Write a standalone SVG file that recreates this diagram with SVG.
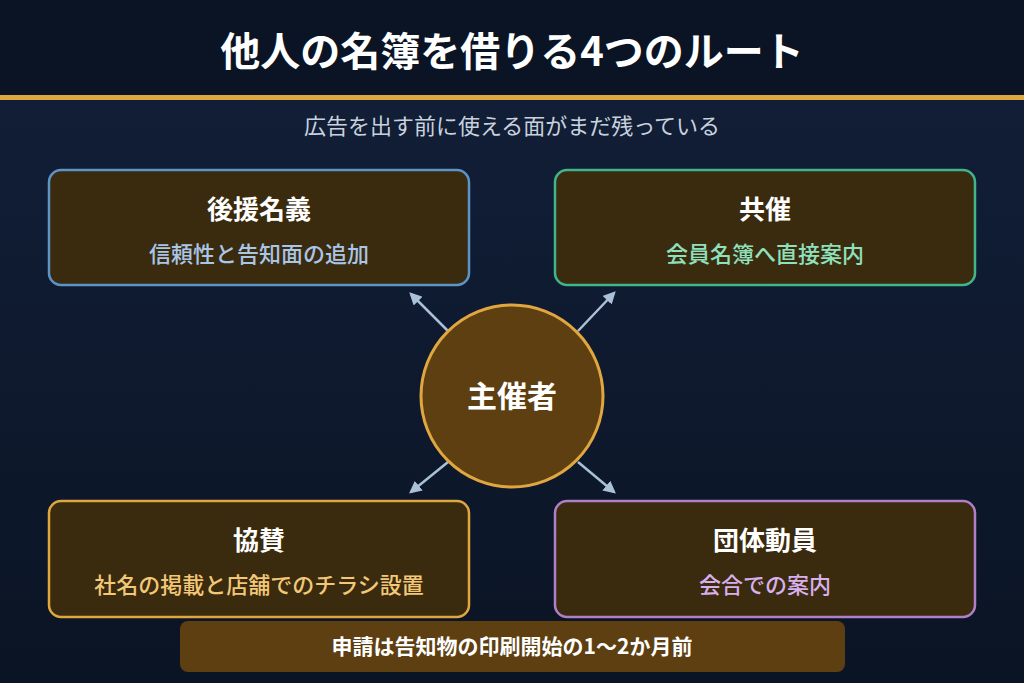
<svg xmlns="http://www.w3.org/2000/svg" width="1024" height="683" viewBox="0 0 1024 683">
<defs>
<linearGradient id="bg" x1="0" y1="0" x2="0" y2="1"><stop offset="0" stop-color="#13203a"/><stop offset="1" stop-color="#0a1424"/></linearGradient>
<marker id="ah" viewBox="0 0 10 10" refX="8" refY="5" markerWidth="5" markerHeight="5" orient="auto"><path d="M0,0L10,5L0,10z" fill="#a9c0d6"/></marker>
<style>
text{font-family:"Noto Sans CJK JP","Noto Sans",sans-serif;text-anchor:middle}
.box{fill:#3a2a0e;stroke-width:2.5}
.h{fill:#fff;font-size:26px;font-weight:700}
.s{font-size:22px;font-weight:500}
.c{stroke:#a9c0d6;stroke-width:2.5;marker-end:url(#ah)}
</style>
</defs>
<rect width="1024" height="683" fill="url(#bg)"/>
<rect width="1024" height="96" fill="#0a1424"/>
<rect y="95" width="1024" height="5" fill="#e0a640"/>
<text x="512" y="66" fill="#fff" font-size="40" font-weight="700">他人の名簿を借りる4つのルート</text>
<text x="512" y="134" fill="#c8d2de" font-size="22">広告を出す前に使える面がまだ残っている</text>
<g id="connectors">
<line class="c" x1="448" y1="331" x2="411" y2="294"/>
<line class="c" x1="578" y1="331" x2="614" y2="293"/>
<line class="c" x1="448" y1="462" x2="411" y2="492"/>
<line class="c" x1="578" y1="462" x2="614" y2="492"/>
</g>
<g id="center"><circle cx="512" cy="396" r="91" fill="#5e3f12" stroke="#e0a640" stroke-width="3"/><text x="512" y="407" fill="#fff" font-size="30" font-weight="700">主催者</text></g>
<g id="n1"><rect class="box" x="49" y="170" width="420" height="115" rx="12" stroke="#5d94c8"/><text class="h" x="259" y="219">後援名義</text><text class="s" x="259" y="262" fill="#a9c6e6">信頼性と告知面の追加</text></g>
<g id="n2"><rect class="box" x="555" y="170" width="420" height="115" rx="12" stroke="#3fb58a"/><text class="h" x="765" y="219">共催</text><text class="s" x="765" y="262" fill="#8fe0bd">会員名簿へ直接案内</text></g>
<g id="n3"><rect class="box" x="49" y="501" width="420" height="116" rx="12" stroke="#e0a640"/><text class="h" x="259" y="550">協賛</text><text class="s" x="259" y="593" fill="#f2c878">社名の掲載と店舗でのチラシ設置</text></g>
<g id="n4"><rect class="box" x="555" y="501" width="420" height="116" rx="12" stroke="#b07fc8"/><text class="h" x="765" y="550">団体動員</text><text class="s" x="765" y="593" fill="#d7b0ec">会合での案内</text></g>
<g id="note"><rect x="180" y="621" width="665" height="51" rx="8" fill="#5e3f12"/><text x="512" y="654" fill="#fff" font-size="21" font-weight="700">申請は告知物の印刷開始の1〜2か月前</text></g>
</svg>
